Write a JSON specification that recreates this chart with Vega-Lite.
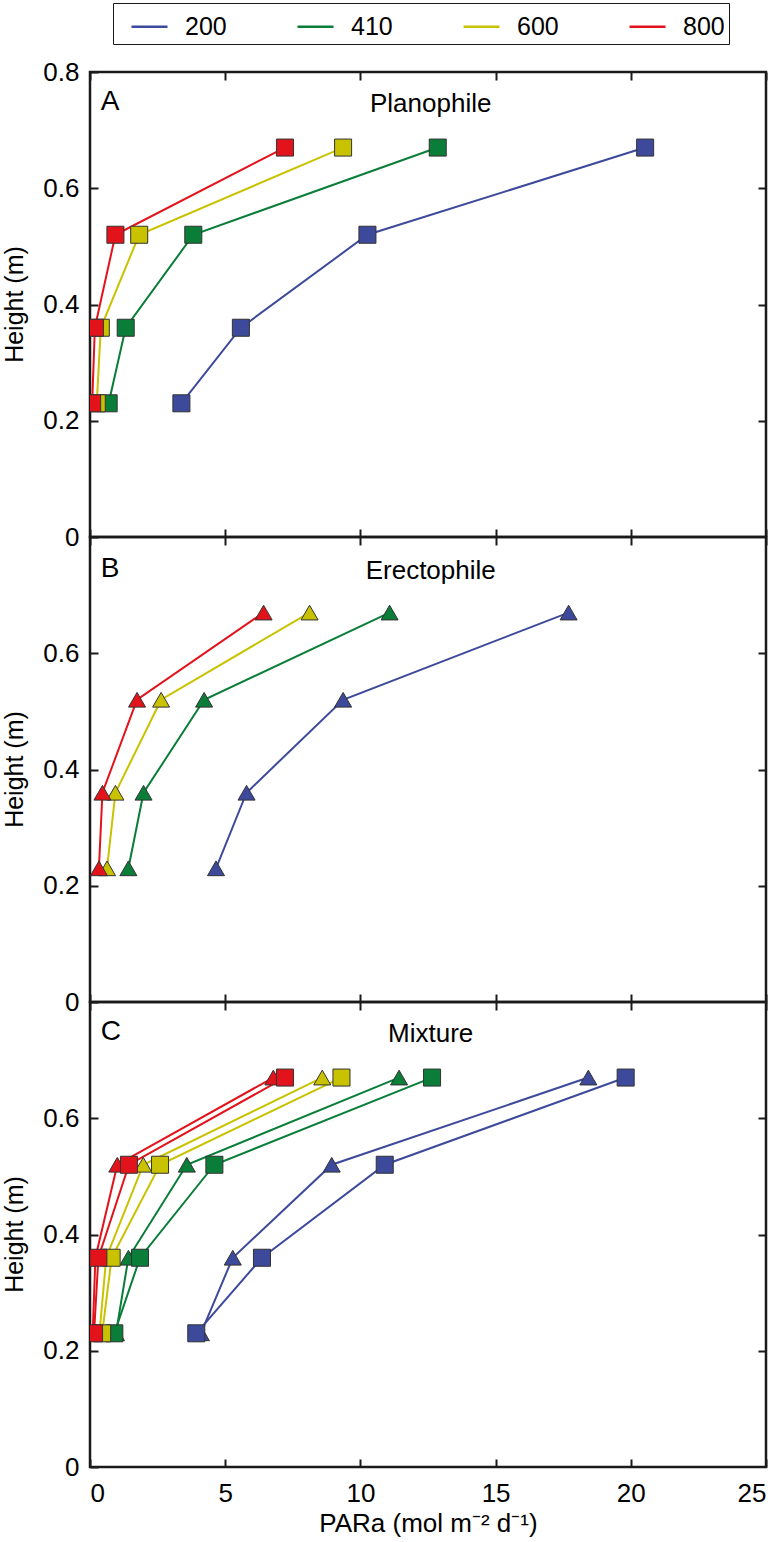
{
  "$schema": "https://vega.github.io/schema/vega-lite/v6.json",
  "padding": {"left": 0, "top": 2, "right": 0, "bottom": 0},
  "background": "white",
  "spacing": 0,
  "bounds": "flush",
  "config": {
    "font": "Liberation Sans",
    "view": {"stroke": "#1a1a1a", "strokeWidth": 2.5},
    "axis": {
      "domain": false, "grid": false, "ticks": true, "tickSize": -8, "tickWidth": 2, "tickColor": "#1a1a1a",
      "labelFont": "Liberation Sans", "labelFontSize": 26, "labelColor": "black",
      "titleFont": "Liberation Sans", "titleFontSize": 25, "titleFontWeight": "normal", "titleColor": "black"
    }
  },
  "datasets": {
    "d": [
      {"p": "A", "s": "square", "t": "200", "h": 0.23, "v": 3.38},
      {"p": "A", "s": "square", "t": "200", "h": 0.36, "v": 5.58},
      {"p": "A", "s": "square", "t": "200", "h": 0.52, "v": 10.26},
      {"p": "A", "s": "square", "t": "200", "h": 0.67, "v": 20.53},
      {"p": "A", "s": "square", "t": "410", "h": 0.23, "v": 0.69},
      {"p": "A", "s": "square", "t": "410", "h": 0.36, "v": 1.32},
      {"p": "A", "s": "square", "t": "410", "h": 0.52, "v": 3.82},
      {"p": "A", "s": "square", "t": "410", "h": 0.67, "v": 12.86},
      {"p": "A", "s": "square", "t": "600", "h": 0.23, "v": 0.25},
      {"p": "A", "s": "square", "t": "600", "h": 0.36, "v": 0.4},
      {"p": "A", "s": "square", "t": "600", "h": 0.52, "v": 1.82},
      {"p": "A", "s": "square", "t": "600", "h": 0.67, "v": 9.36},
      {"p": "A", "s": "square", "t": "800", "h": 0.23, "v": 0.08},
      {"p": "A", "s": "square", "t": "800", "h": 0.36, "v": 0.18},
      {"p": "A", "s": "square", "t": "800", "h": 0.52, "v": 0.94},
      {"p": "A", "s": "square", "t": "800", "h": 0.67, "v": 7.21},

      {"p": "B", "s": "triangle", "t": "200", "h": 0.23, "v": 4.66},
      {"p": "B", "s": "triangle", "t": "200", "h": 0.36, "v": 5.79},
      {"p": "B", "s": "triangle", "t": "200", "h": 0.52, "v": 9.36},
      {"p": "B", "s": "triangle", "t": "200", "h": 0.67, "v": 17.7},
      {"p": "B", "s": "triangle", "t": "410", "h": 0.23, "v": 1.42},
      {"p": "B", "s": "triangle", "t": "410", "h": 0.36, "v": 1.98},
      {"p": "B", "s": "triangle", "t": "410", "h": 0.52, "v": 4.22},
      {"p": "B", "s": "triangle", "t": "410", "h": 0.67, "v": 11.08},
      {"p": "B", "s": "triangle", "t": "600", "h": 0.23, "v": 0.63},
      {"p": "B", "s": "triangle", "t": "600", "h": 0.36, "v": 0.94},
      {"p": "B", "s": "triangle", "t": "600", "h": 0.52, "v": 2.63},
      {"p": "B", "s": "triangle", "t": "600", "h": 0.67, "v": 8.12},
      {"p": "B", "s": "triangle", "t": "800", "h": 0.23, "v": 0.33},
      {"p": "B", "s": "triangle", "t": "800", "h": 0.36, "v": 0.46},
      {"p": "B", "s": "triangle", "t": "800", "h": 0.52, "v": 1.74},
      {"p": "B", "s": "triangle", "t": "800", "h": 0.67, "v": 6.42},

      {"p": "C", "s": "triangle", "t": "200", "h": 0.23, "v": 4.1},
      {"p": "C", "s": "triangle", "t": "200", "h": 0.36, "v": 5.28},
      {"p": "C", "s": "triangle", "t": "200", "h": 0.52, "v": 8.94},
      {"p": "C", "s": "triangle", "t": "200", "h": 0.67, "v": 18.43},
      {"p": "C", "s": "square", "t": "200", "h": 0.23, "v": 3.93},
      {"p": "C", "s": "square", "t": "200", "h": 0.36, "v": 6.36},
      {"p": "C", "s": "square", "t": "200", "h": 0.52, "v": 10.9},
      {"p": "C", "s": "square", "t": "200", "h": 0.67, "v": 19.81},
      {"p": "C", "s": "triangle", "t": "410", "h": 0.23, "v": 0.96},
      {"p": "C", "s": "triangle", "t": "410", "h": 0.36, "v": 1.42},
      {"p": "C", "s": "triangle", "t": "410", "h": 0.52, "v": 3.58},
      {"p": "C", "s": "triangle", "t": "410", "h": 0.67, "v": 11.43},
      {"p": "C", "s": "square", "t": "410", "h": 0.23, "v": 0.9},
      {"p": "C", "s": "square", "t": "410", "h": 0.36, "v": 1.85},
      {"p": "C", "s": "square", "t": "410", "h": 0.52, "v": 4.6},
      {"p": "C", "s": "square", "t": "410", "h": 0.67, "v": 12.65},
      {"p": "C", "s": "triangle", "t": "600", "h": 0.23, "v": 0.35},
      {"p": "C", "s": "triangle", "t": "600", "h": 0.36, "v": 0.6},
      {"p": "C", "s": "triangle", "t": "600", "h": 0.52, "v": 1.97},
      {"p": "C", "s": "triangle", "t": "600", "h": 0.67, "v": 8.59},
      {"p": "C", "s": "square", "t": "600", "h": 0.23, "v": 0.45},
      {"p": "C", "s": "square", "t": "600", "h": 0.36, "v": 0.8},
      {"p": "C", "s": "square", "t": "600", "h": 0.52, "v": 2.59},
      {"p": "C", "s": "square", "t": "600", "h": 0.67, "v": 9.3},
      {"p": "C", "s": "triangle", "t": "800", "h": 0.23, "v": 0.1},
      {"p": "C", "s": "triangle", "t": "800", "h": 0.36, "v": 0.2},
      {"p": "C", "s": "triangle", "t": "800", "h": 0.52, "v": 1.01},
      {"p": "C", "s": "triangle", "t": "800", "h": 0.67, "v": 6.78},
      {"p": "C", "s": "square", "t": "800", "h": 0.23, "v": 0.15},
      {"p": "C", "s": "square", "t": "800", "h": 0.36, "v": 0.31},
      {"p": "C", "s": "square", "t": "800", "h": 0.52, "v": 1.44},
      {"p": "C", "s": "square", "t": "800", "h": 0.67, "v": 7.21}
    ],
    "labels": [
      {"p": "A", "letter": "A", "name": "Planophile"},
      {"p": "B", "letter": "B", "name": "Erectophile"},
      {"p": "C", "letter": "C", "name": "Mixture"}
    ]
  },
  "vconcat": [
    {
      "width": 676, "height": 465,
      "layer": [
        {
          "data": {"name": "d"},
          "transform": [{"filter": "datum.p === 'A'"}],
          "mark": {"type": "line", "strokeWidth": 2, "clip": true},
          "encoding": {
            "x": {"field": "v", "type": "quantitative", "scale": {"domain": [0, 25], "nice": false}, "axis": {"orient": "bottom", "values": [0, 5, 10, 15, 20, 25], "labels": false, "title": null}},
            "y": {"field": "h", "type": "quantitative", "scale": {"domain": [0, 0.8], "nice": false}, "axis": {"orient": "left", "values": [0, 0.2, 0.4, 0.6, 0.8], "format": "~g", "labelPadding": 19, "title": "Height (m)", "titleX": -63, "titleY": 232}},
            "color": {"field": "t", "type": "nominal", "scale": {"domain": ["200", "410", "600", "800"], "range": ["#3d4a9b", "#0a7d38", "#c9c200", "#e3131c"]},
              "legend": {"orient": "none", "legendX": 23, "legendY": -69, "direction": "horizontal", "title": null, "symbolType": "stroke", "symbolSize": 1296, "symbolStrokeWidth": 2.5, "labelFontSize": 25, "labelFont": "Liberation Sans", "labelColor": "black", "labelOffset": 16, "symbolOffset": 13, "columnPadding": 56, "padding": 4, "strokeColor": "#1a1a1a"}},
            "detail": {"field": "s"},
            "order": {"field": "h", "type": "quantitative"}
          }
        },
        {
          "data": {"name": "d"},
          "transform": [{"filter": "datum.p === 'A'"}],
          "mark": {"type": "point", "filled": true, "opacity": 1, "stroke": "#333333", "strokeWidth": 1, "size": 290, "clip": true},
          "encoding": {
            "x": {"field": "v", "type": "quantitative", "axis": {"orient": "top", "values": [0, 5, 10, 15, 20, 25], "labels": false, "title": null}},
            "y": {"field": "h", "type": "quantitative", "axis": {"orient": "right", "values": [0.2, 0.4, 0.6], "labels": false, "title": null}},
            "color": {"field": "t", "type": "nominal", "legend": null},
            "shape": {"field": "s", "type": "nominal", "scale": {"domain": ["square", "triangle"], "range": ["square", "triangle-up"]}, "legend": null}
          }
        },
        {
          "data": {"name": "labels"},
          "transform": [{"filter": "datum.p === 'A'"}],
          "mark": {"type": "text", "align": "left", "baseline": "middle", "fontSize": 28, "color": "black"},
          "encoding": {
            "x": {"datum": 0.4, "type": "quantitative", "axis": null},
            "y": {"datum": 0.748, "type": "quantitative", "axis": null},
            "text": {"field": "letter"}
          }
        },
        {
          "data": {"name": "labels"},
          "transform": [{"filter": "datum.p === 'A'"}],
          "mark": {"type": "text", "align": "center", "baseline": "middle", "fontSize": 26, "color": "black"},
          "encoding": {
            "x": {"datum": 12.6, "type": "quantitative", "axis": null},
            "y": {"datum": 0.745, "type": "quantitative", "axis": null},
            "text": {"field": "name"}
          }
        }
      ]
    },
    {
      "width": 676, "height": 465,
      "layer": [
        {
          "data": {"name": "d"},
          "transform": [{"filter": "datum.p === 'B'"}],
          "mark": {"type": "line", "strokeWidth": 2, "clip": true},
          "encoding": {
            "x": {"field": "v", "type": "quantitative", "scale": {"domain": [0, 25], "nice": false}, "axis": {"orient": "bottom", "values": [0, 5, 10, 15, 20, 25], "labels": false, "title": null}},
            "y": {"field": "h", "type": "quantitative", "scale": {"domain": [0, 0.8], "nice": false}, "axis": {"orient": "left", "values": [0, 0.2, 0.4, 0.6], "format": "~g", "labelPadding": 19, "title": "Height (m)", "titleX": -63, "titleY": 232}},
            "color": {"field": "t", "type": "nominal", "legend": null},
            "detail": {"field": "s"},
            "order": {"field": "h", "type": "quantitative"}
          }
        },
        {
          "data": {"name": "d"},
          "transform": [{"filter": "datum.p === 'B'"}],
          "mark": {"type": "point", "filled": true, "opacity": 1, "stroke": "#333333", "strokeWidth": 1, "size": 290, "clip": true},
          "encoding": {
            "x": {"field": "v", "type": "quantitative", "axis": {"orient": "top", "values": [0, 5, 10, 15, 20, 25], "labels": false, "title": null}},
            "y": {"field": "h", "type": "quantitative", "axis": {"orient": "right", "values": [0.2, 0.4, 0.6], "labels": false, "title": null}},
            "color": {"field": "t", "type": "nominal", "legend": null},
            "shape": {"field": "s", "type": "nominal", "scale": {"domain": ["square", "triangle"], "range": ["square", "triangle-up"]}, "legend": null}
          }
        },
        {
          "data": {"name": "labels"},
          "transform": [{"filter": "datum.p === 'B'"}],
          "mark": {"type": "text", "align": "left", "baseline": "middle", "fontSize": 28, "color": "black"},
          "encoding": {
            "x": {"datum": 0.4, "type": "quantitative", "axis": null},
            "y": {"datum": 0.745, "type": "quantitative", "axis": null},
            "text": {"field": "letter"}
          }
        },
        {
          "data": {"name": "labels"},
          "transform": [{"filter": "datum.p === 'B'"}],
          "mark": {"type": "text", "align": "center", "baseline": "middle", "fontSize": 26, "color": "black"},
          "encoding": {
            "x": {"datum": 12.6, "type": "quantitative", "axis": null},
            "y": {"datum": 0.742, "type": "quantitative", "axis": null},
            "text": {"field": "name"}
          }
        }
      ]
    },
    {
      "width": 676, "height": 465,
      "layer": [
        {
          "data": {"name": "d"},
          "transform": [{"filter": "datum.p === 'C'"}],
          "mark": {"type": "line", "strokeWidth": 2, "clip": true},
          "encoding": {
            "x": {"field": "v", "type": "quantitative", "scale": {"domain": [0, 25], "nice": false}, "axis": {"orient": "bottom", "values": [0, 5, 10, 15, 20, 25], "format": "d", "labelPadding": 21, "title": "PARa (mol m\u207b\u00b2 d\u207b\u00b9)", "titleFontSize": 26, "titlePadding": 4}},
            "y": {"field": "h", "type": "quantitative", "scale": {"domain": [0, 0.8], "nice": false}, "axis": {"orient": "left", "values": [0, 0.2, 0.4, 0.6], "format": "~g", "labelPadding": 19, "title": "Height (m)", "titleX": -63, "titleY": 232}},
            "color": {"field": "t", "type": "nominal", "legend": null},
            "detail": {"field": "s"},
            "order": {"field": "h", "type": "quantitative"}
          }
        },
        {
          "data": {"name": "d"},
          "transform": [{"filter": "datum.p === 'C'"}],
          "mark": {"type": "point", "filled": true, "opacity": 1, "stroke": "#333333", "strokeWidth": 1, "size": 290, "clip": true},
          "encoding": {
            "x": {"field": "v", "type": "quantitative", "axis": {"orient": "top", "values": [0, 5, 10, 15, 20, 25], "labels": false, "title": null}},
            "y": {"field": "h", "type": "quantitative", "axis": {"orient": "right", "values": [0.2, 0.4, 0.6], "labels": false, "title": null}},
            "color": {"field": "t", "type": "nominal", "legend": null},
            "shape": {"field": "s", "type": "nominal", "scale": {"domain": ["square", "triangle"], "range": ["square", "triangle-up"]}, "legend": null}
          }
        },
        {
          "data": {"name": "labels"},
          "transform": [{"filter": "datum.p === 'C'"}],
          "mark": {"type": "text", "align": "left", "baseline": "middle", "fontSize": 28, "color": "black"},
          "encoding": {
            "x": {"datum": 0.4, "type": "quantitative", "axis": null},
            "y": {"datum": 0.748, "type": "quantitative", "axis": null},
            "text": {"field": "letter"}
          }
        },
        {
          "data": {"name": "labels"},
          "transform": [{"filter": "datum.p === 'C'"}],
          "mark": {"type": "text", "align": "center", "baseline": "middle", "fontSize": 26, "color": "black"},
          "encoding": {
            "x": {"datum": 12.6, "type": "quantitative", "axis": null},
            "y": {"datum": 0.745, "type": "quantitative", "axis": null},
            "text": {"field": "name"}
          }
        }
      ]
    }
  ]
}
